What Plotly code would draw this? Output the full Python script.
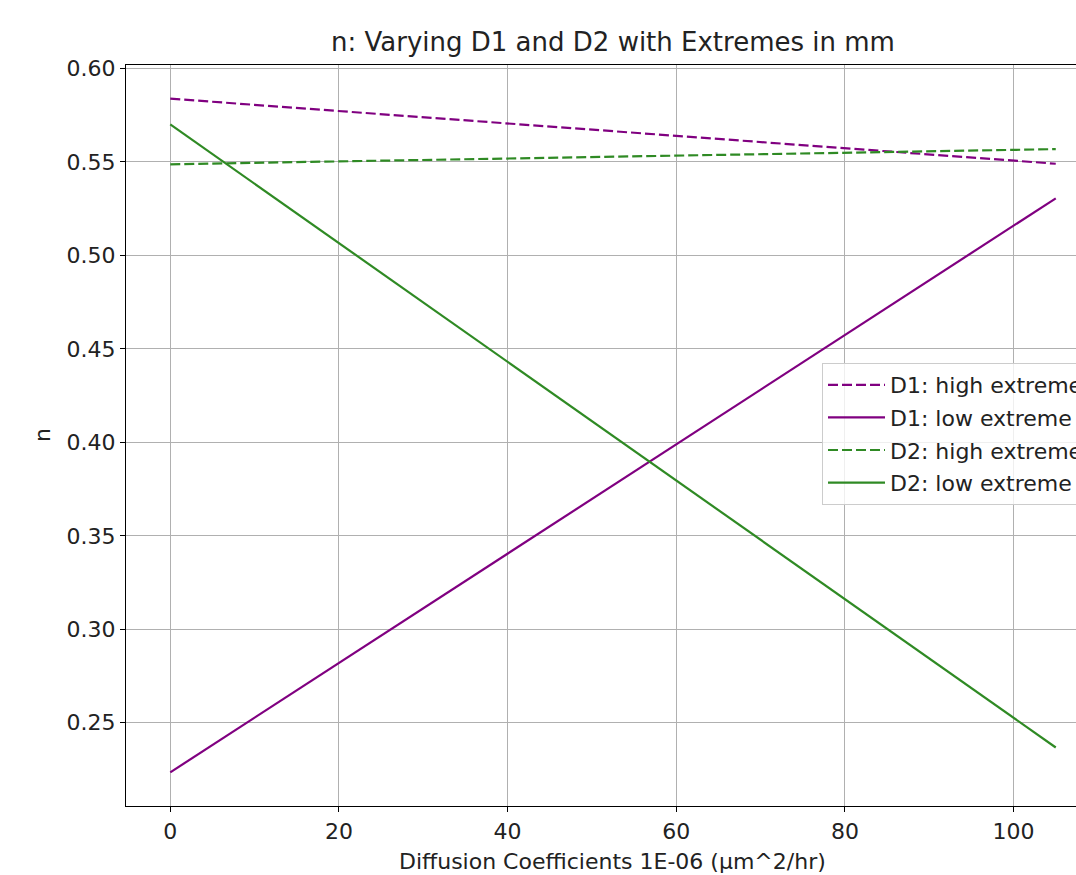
import plotly.graph_objects as go

# Data
x_vals = [0, 105]
d1_high = [0.5838, 0.5490]
d1_low = [0.2235, 0.5305]
d2_high = [0.5487, 0.5568]
d2_low = [0.5700, 0.2368]

series_names = ["D1: high extreme", "D1: low extreme", "D2: high extreme", "D2: low extreme"]
series_values = [d1_high, d1_low, d2_high, d2_low]
series_colors = ["#800080", "#800080", "#2f8a24", "#2f8a24"]
series_dash = ["10px,4px", "solid", "10px,4px", "solid"]

title_text = "n: Varying D1 and D2 with Extremes in mm"
x_label = "Diffusion Coefficients 1E-06 (µm^2/hr)"
y_label = "n"

W, H = 1076, 875
L, T = 126, 65
BOT = 806
B = H - BOT
plot_w = W - L
plot_h = BOT - T

fig = go.Figure()
for i, (name, vals, col, dsh) in enumerate(zip(series_names, series_values, series_colors, series_dash)):
    fig.add_trace(go.Scatter(
        x=x_vals, y=vals, mode="lines", name=name,
        line=dict(color=col, width=2.2, dash=dsh),
        legendgroup=f"g{i}",
    ))

font_family = "DejaVu Sans"
txt_color = "#222222"
FS = 22

def px_x(p):
    return (p - L) / plot_w

def px_y(p):
    return (BOT - p) / plot_h

fig.update_layout(
    width=W, height=H,
    margin=dict(l=L, r=0, t=T, b=B, autoexpand=False),
    paper_bgcolor="white", plot_bgcolor="white",
    font=dict(family=font_family, size=FS, color=txt_color),
    showlegend=True,
    legend=dict(
        x=px_x(822), y=px_y(363),
        xanchor="left", yanchor="top",
        bgcolor="rgba(255,255,255,0.8)", bordercolor="#cccccc", borderwidth=1,
        font=dict(family=font_family, size=FS, color=txt_color),
        tracegroupgap=1, itemwidth=57,
    ),
    title=dict(
        text=title_text, x=px_x(613), xref="paper", xanchor="center",
        y=1 - 42 / H, yref="container", yanchor="middle",
        font=dict(family=font_family, size=26, color=txt_color),
    ),
    xaxis=dict(
        range=[-5.25, 107.4], dtick=20, tick0=0,
        showgrid=True, gridcolor="#b0b0b0", gridwidth=1.2,
        showline=True, linecolor="black", linewidth=1.2, mirror=True,
        ticks="outside", ticklen=5, tickwidth=1.2, tickcolor="black",
        zeroline=False,
        tickfont=dict(family=font_family, size=FS, color=txt_color),
    ),
    yaxis=dict(
        range=[0.2055, 0.6018], dtick=0.05, tick0=0, tickformat=".2f",
        showgrid=True, gridcolor="#b0b0b0", gridwidth=1.2,
        showline=True, linecolor="black", linewidth=1.2, mirror=False,
        ticks="outside", ticklen=5, tickwidth=1.2, tickcolor="black",
        zeroline=False,
        tickfont=dict(family=font_family, size=FS, color=txt_color),
    ),
    annotations=[
        dict(text=x_label, xref="paper", yref="paper",
             x=px_x(612), y=px_y(861),
             xanchor="center", yanchor="middle", showarrow=False,
             font=dict(family=font_family, size=FS, color=txt_color)),
        dict(text=y_label, xref="paper", yref="paper",
             x=px_x(42), y=px_y(435),
             xanchor="center", yanchor="middle", showarrow=False, textangle=-90,
             font=dict(family=font_family, size=FS, color=txt_color)),
    ],
)

fig.write_html(
    "out.html",
    config={"displayModeBar": False},
    post_script="document.body.style.margin='0';document.body.style.overflow='hidden';",
)
